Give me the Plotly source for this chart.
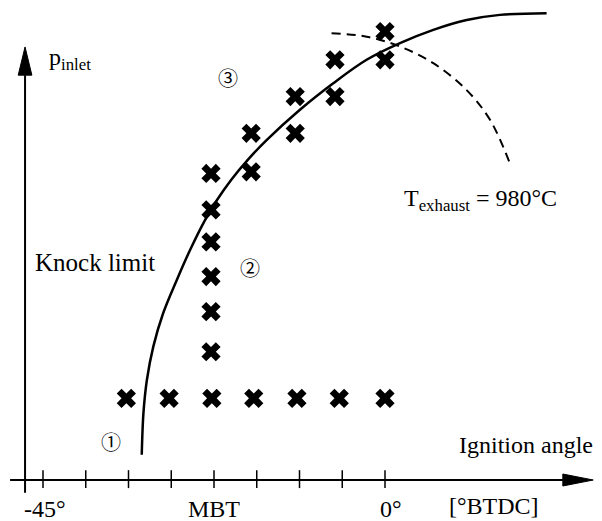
import plotly.graph_objects as go

# ---------------- data (schematic units: 1 unit = one tick step) ----------------
tick_pos = [0, 1, 2, 3, 4, 5, 6, 7, 8]
tick_label_pos = [0.05, 4.0, 8.14]
tick_label_text = ["-45°", "MBT", "0°"]

# operating points (crosses)
row_x = [1.95, 2.95, 3.95, 4.93, 5.94, 6.93, 8.0]
row_y = [1.91, 1.91, 1.91, 1.91, 1.91, 1.91, 1.91]
col_x = [3.93, 3.93, 3.93, 3.93, 3.93, 3.93]
col_y = [3.00, 3.94, 4.76, 5.57, 6.32, 7.17]
pair_x = [4.87, 4.87, 5.90, 5.90, 6.83, 6.83, 8.00, 8.00]
pair_y = [7.21, 8.11, 8.11, 8.97, 8.97, 9.83, 9.83, 10.49]

# knock limit curve
knock_x = [2.31, 2.35, 2.43, 2.58, 2.81, 3.13, 3.44, 3.79, 4.07, 4.40, 4.79, 5.23, 6.01, 6.79, 7.57, 8.35, 9.13, 9.91, 10.69, 11.78]
knock_y = [0.59, 1.57, 2.34, 3.12, 3.90, 4.68, 5.38, 6.08, 6.55, 7.02, 7.49, 7.95, 8.66, 9.28, 9.83, 10.22, 10.53, 10.76, 10.88, 10.92]

# exhaust temperature limit curve
exh_x = [6.75, 7.57, 8.35, 9.13, 9.91, 10.46, 10.92]
exh_y = [10.45, 10.37, 10.14, 9.75, 9.12, 8.42, 7.41]

# axis geometry (schematic)
x_axis_start, x_axis_end, x_arrow_tip = -0.77, 12.16, 12.87
y_axis_pos, y_axis_start, y_axis_end, y_arrow_tip = -0.42, -0.30, 9.47, 10.13

FONT = "Liberation Serif, Times New Roman, serif"
CIRC_FONT = "Noto Sans CJK JP, DejaVu Sans"

fig = go.Figure()

fig.add_trace(go.Scatter(x=knock_x, y=knock_y, mode="lines",
                         line=dict(color="black", width=2.5, shape="spline", smoothing=1.0),
                         hoverinfo="skip", showlegend=False))
fig.add_trace(go.Scatter(x=exh_x, y=exh_y, mode="lines",
                         line=dict(color="black", width=2, shape="spline", dash="9px,6px"),
                         hoverinfo="skip", showlegend=False))
fig.add_trace(go.Scatter(x=row_x + col_x + pair_x, y=row_y + col_y + pair_y, mode="markers",
                         marker=dict(symbol="x", size=17, color="black", line=dict(width=0)),
                         showlegend=False))

shapes = []
# x axis
shapes.append(dict(type="line", x0=x_axis_start, x1=x_axis_end, y0=0, y1=0, line=dict(color="black", width=2)))
shapes.append(dict(type="path", path=f"M {x_axis_end},0.14 L {x_arrow_tip},0 L {x_axis_end},-0.14 Z",
                   fillcolor="black", line=dict(color="black", width=1)))
# y axis
shapes.append(dict(type="line", x0=y_axis_pos, x1=y_axis_pos, y0=y_axis_start, y1=y_axis_end,
                   line=dict(color="black", width=2)))
shapes.append(dict(type="path",
                   path=f"M {y_axis_pos-0.16},{y_axis_end} L {y_axis_pos},{y_arrow_tip} L {y_axis_pos+0.16},{y_axis_end} Z",
                   fillcolor="black", line=dict(color="black", width=1)))
# ticks
for t in tick_pos:
    shapes.append(dict(type="line", x0=t, x1=t, y0=-0.19, y1=0.23, line=dict(color="black", width=1.5)))

ann = []
def txt(x, y, s, size=24, xanchor="center", family=FONT):
    ann.append(dict(x=x, y=y, text=s, showarrow=False, xanchor=xanchor, yanchor="middle",
                    font=dict(family=family, size=size, color="black")))

for p, s in zip(tick_label_pos, tick_label_text):
    txt(p, -0.67, s)
txt(10.55, -0.60, "[°BTDC]")
txt(9.68, 0.82, "Ignition angle", xanchor="left")
txt(-0.23, 5.08, "Knock limit", size=25, xanchor="left")
txt(0.10, 9.85, "p<sub>inlet</sub>", xanchor="left")
txt(8.40, 6.55, "T<sub>exhaust</sub> = 980°C", xanchor="left")
txt(4.33, 9.42, "③", size=20, family=CIRC_FONT)
txt(4.84, 4.98, "②", size=20, family=CIRC_FONT)
txt(1.59, 0.89, "①", size=20, family=CIRC_FONT)

# page has an 8px body margin: shift data ranges so the picture lines up with the page
W, H = 602, 521
u = 42.75
off = 8
fig.update_layout(
    width=W, height=H, margin=dict(l=0, r=0, t=0, b=0),
    paper_bgcolor="white", plot_bgcolor="white",
    xaxis=dict(range=[(off - 43) / u, (W + off - 43) / u], visible=False),
    yaxis=dict(range=[(480 - H - off) / u, (480 - off) / u], visible=False),
    shapes=shapes, annotations=ann,
)
fig.write_html("out.html")
